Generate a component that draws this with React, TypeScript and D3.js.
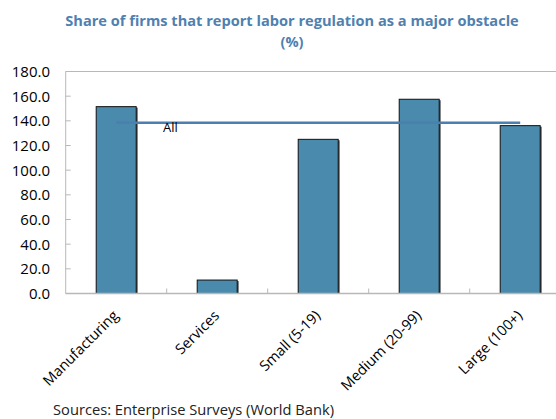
import React from "react";
import * as d3 from "d3";

const categories = ["Manufacturing", "Services", "Small (5-19)", "Medium (20-99)", "Large (100+)"];
const values = [151.5, 10.9, 125.0, 157.5, 136.1];
const allValue = 138.5;
const yTicks = [0, 20, 40, 60, 80, 100, 120, 140, 160, 180];
const titleLines = ["Share of firms that report labor regulation as a major obstacle", "(%)"];
const sourceText = "Sources: Enterprise Surveys (World Bank)";

const W = 556;
const H = 419;
const left = 65.7;
const top = 71.5;
const bottom = 293.5;
const right = left + 101 * 5;
const font = "'Open Sans', sans-serif";

export default function App() {
  const x = d3.scaleBand<string>().domain(categories).range([left, right]).paddingInner(0.604).paddingOuter(0.302);
  const y = d3.scaleLinear().domain([0, 180]).range([bottom, top]);
  const step = x.step();
  const bounds = categories.slice(1).map((c) => (x(c) as number) - step * 0.302);
  const lineGen = d3.line<[number, number]>().x((d) => d[0]).y((d) => d[1]);
  const first = (x(categories[0]) as number) + x.bandwidth() / 2;
  const last = (x(categories[categories.length - 1]) as number) + x.bandwidth() / 2;
  return (
    <div style={{ position: "absolute", left: 0, top: 0 }}>
      <svg width={W} height={H} style={{ display: "block", background: "#fff" }}>
        {titleLines.map((t, i) => (
          <text key={i} x={292} y={26 + i * 21} textAnchor="middle" fontFamily={font} fontWeight="bold" fontSize={14.6} fill="#4f81b0">
            {t}
          </text>
        ))}
        <line x1={left} x2={W} y1={top} y2={top} stroke="#b8b8b8" strokeWidth={1} />
        <line x1={left} x2={left} y1={top} y2={bottom} stroke="#b8b8b8" strokeWidth={1} />
        {yTicks.map((t) => (
          <g key={t}>
            <line x1={left} x2={left + 5} y1={y(t)} y2={y(t)} stroke="#b8b8b8" />
            <text x={50} y={y(t)} dy="0.36em" textAnchor="end" fontFamily={font} fontSize={15} fill="#000">
              {t.toFixed(1)}
            </text>
          </g>
        ))}
        {bars()}
        <line x1={left} x2={W} y1={bottom} y2={bottom} stroke="#b8b8b8" strokeWidth={1.5} />
        {bounds.map((b, i) => (
          <line key={i} x1={b} x2={b} y1={bottom} y2={bottom - 5} stroke="#b8b8b8" />
        ))}
        <path d={lineGen([[first, y(allValue)], [last, y(allValue)]]) || ""} stroke="#4a7fb0" strokeWidth={2.5} fill="none" />
        <text x={163} y={y(allValue) + 9} fontFamily={font} fontSize={13} fill="#000">All</text>
        {categories.map((c) => {
          const cx = (x(c) as number) + x.bandwidth() / 2 + 3;
          return (
            <text key={c} transform={`translate(${cx},${bottom + 23}) rotate(-45)`} textAnchor="end" fontFamily={font} fontSize={14.5} fill="#000">
              {c}
            </text>
          );
        })}
        <text x={53} y={415} fontFamily={font} fontSize={14.7} fill="#222">{sourceText}</text>
      </svg>
    </div>
  );

  function bars() {
    return categories.map((c, i) => {
      const bx = x(c) as number;
      const by = y(values[i]);
      return (
        <g key={c}>
          <rect x={bx + 1.5} y={by + 1} width={x.bandwidth()} height={bottom - by - 1} fill="#555" />
          <rect x={bx} y={by} width={x.bandwidth()} height={bottom - by} fill="#4a8aad" stroke="#111" strokeWidth={1} />
        </g>
      );
    });
  }
}
